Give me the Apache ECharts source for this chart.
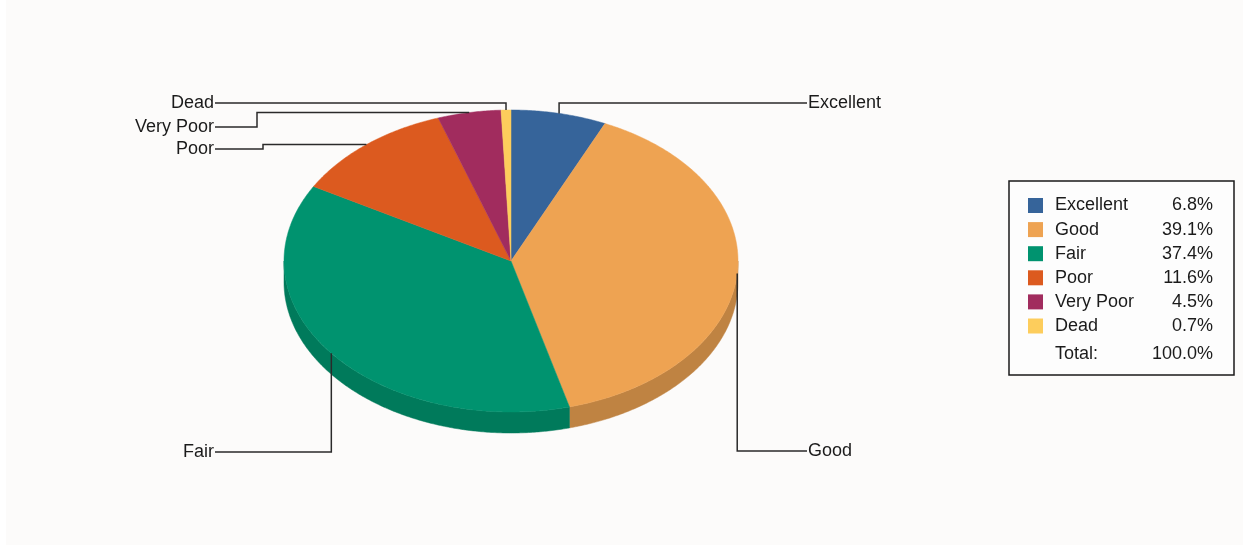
<!DOCTYPE html>
<html>
<head>
<meta charset="utf-8">
<script src="https://cdn.jsdelivr.net/npm/echarts@6/dist/echarts.min.js"></script>
<style>
html,body{margin:0;padding:0;background:#fff;}
#main{width:1243px;height:550px;background:#fcfbfa;box-shadow:inset 6px -5px 0 #fff;}
</style>
</head>
<body>
<div id="main"></div>
<script>
var names = ['Excellent', 'Good', 'Fair', 'Poor', 'Very Poor', 'Dead'];
var values = [6.8, 39.1, 37.4, 11.6, 4.5, 0.7];
var totalText = '100.0%';
var colors = ['#36649a', '#eea352', '#00936f', '#dc5a1f', '#a12c5e', '#fdcd5c'];
var sideColors = ['#2b507b', '#bf8342', '#007a5b', '#b04818', '#81234b', '#caa44a'];

// label rows: y of the label, x of the elbow (null = goes straight up/down)
var labelY = [103, 451, 452, 149, 127, 103];
var labelBend = [null, null, null, 263, 257, null];

var cx = 511, cy = 261, rx = 227, ry = 151, depth = 21;
var leftTextX = 215, rightTextX = 807;
var font = '18px "Liberation Sans", Arial, sans-serif';
var textColor = '#1b1b1b';

var total = values.reduce(function (a, b) { return a + b; }, 0);
var starts = [], acc = 0;
for (var i = 0; i < values.length; i++) {
    starts.push(acc / total * 360);
    acc += values[i];
}

function pt(deg, dy) {
    var r = deg * Math.PI / 180;
    return [cx + rx * Math.sin(r), cy - ry * Math.cos(r) + (dy || 0)];
}
function arc(a, b, dy) {
    var pts = [], n = Math.max(2, Math.ceil((b - a) / 0.5));
    for (var k = 0; k <= n; k++) pts.push(pt(a + (b - a) * k / n, dy));
    return pts;
}

function renderItem(params, api) {
    var i = params.dataIndex;
    var a = starts[i], b = a + api.value(0) / total * 360;
    var children = [];
    // side face, only the front half shows
    var sa = Math.max(a, 90), sb = Math.min(b, 270);
    if (sb > sa) {
        var top = arc(sa, sb, 0), bottom = arc(sa, sb, depth).reverse();
        children.push({
            type: 'polygon', z2: 0,
            shape: {points: top.concat(bottom)},
            style: {fill: sideColors[i], stroke: sideColors[i], lineWidth: 0.5}
        });
    }
    children.push({
        type: 'polygon', z2: 1,
        shape: {points: [[cx, cy]].concat(arc(a, b, 0))},
        style: {fill: colors[i], stroke: colors[i], lineWidth: 0.5}
    });
    // leader line + label
    var p0 = pt((a + b) / 2, 0);
    var right = p0[0] > cx;
    var bx = labelBend[i] == null ? p0[0] : labelBend[i];
    var tx = right ? rightTextX : leftTextX;
    children.push({
        type: 'polyline', z2: 2,
        shape: {points: [p0, [bx, p0[1]], [bx, labelY[i]], [tx, labelY[i]]]},
        style: {stroke: '#2a2a2a', lineWidth: 1.5, fill: null}
    });
    children.push({
        type: 'text', z2: 3, x: tx + (right ? 1 : -1), y: labelY[i],
        style: {text: names[i], font: font, fill: textColor, align: right ? 'left' : 'right', verticalAlign: 'middle'}
    });
    return {type: 'group', children: children};
}

// legend box
var legendTop = 205.5, rowGap = 24.1;
var graphics = [{
    type: 'rect',
    shape: {x: 1009, y: 181, width: 225, height: 194},
    style: {fill: '#fdfdfd', stroke: '#1a1a1a', lineWidth: 1.5}
}];
names.forEach(function (n, i) {
    var y = legendTop + i * rowGap;
    graphics.push({type: 'rect', shape: {x: 1028, y: y - 7.5, width: 15, height: 15}, style: {fill: colors[i]}});
    graphics.push({type: 'text', x: 1055, y: y, style: {text: n, font: font, fill: textColor, verticalAlign: 'middle'}});
    graphics.push({type: 'text', x: 1213, y: y, style: {text: values[i].toFixed(1) + '%', font: font, fill: textColor, align: 'right', verticalAlign: 'middle'}});
});
graphics.push({type: 'text', x: 1055, y: 354, style: {text: 'Total:', font: font, fill: textColor, verticalAlign: 'middle'}});
graphics.push({type: 'text', x: 1213, y: 354, style: {text: totalText, font: font, fill: textColor, align: 'right', verticalAlign: 'middle'}});

var myChart = echarts.init(document.getElementById('main'));
option = {
    backgroundColor: 'transparent',
    animation: false,
    graphic: graphics,
    series: [{
        type: 'custom',
        coordinateSystem: 'none',
        renderItem: renderItem,
        data: values
    }]
};
myChart.setOption(option);
</script>
</body>
</html>
